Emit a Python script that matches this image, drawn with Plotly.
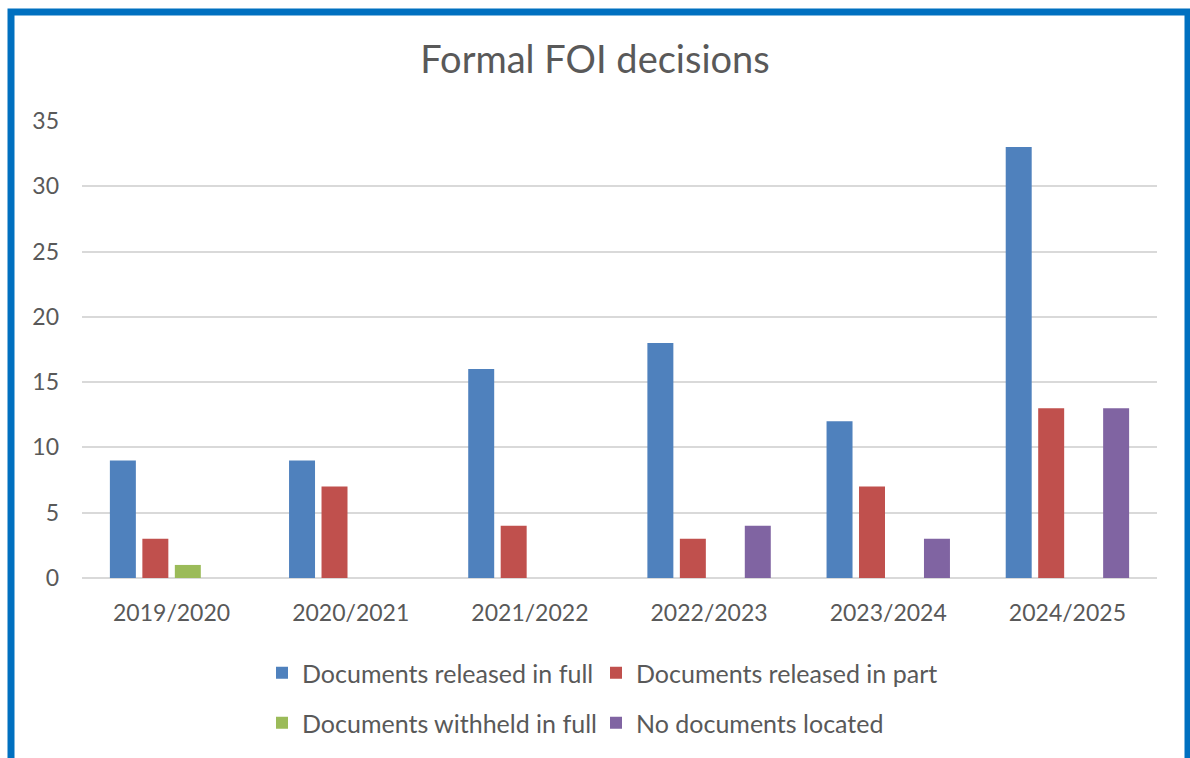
import plotly.graph_objects as go

years = ["2019/2020", "2020/2021", "2021/2022", "2022/2023", "2023/2024", "2024/2025"]
released_full = [9, 9, 16, 18, 12, 33]
released_part = [3, 7, 4, 3, 7, 13]
withheld_full = [1, 0, 0, 0, 0, 0]
none_located = [0, 0, 0, 4, 3, 13]

series_names = ["Documents released in full", "Documents released in part",
                "Documents withheld in full", "No documents located"]
series_values = [released_full, released_part, withheld_full, none_located]
series_colors = ["#4F81BD", "#C0504D", "#9BBB59", "#8064A2"]
series_legends = ["legend2", "legend3", "legend4", "legend5"]

W, H = 1190, 758
L, R, T, B = 82, 33, 121, 180
FONT = "Lato"
GREY = "#595959"

fig = go.Figure()
for name, vals, col, lg in zip(series_names, series_values, series_colors, series_legends):
    fig.add_trace(go.Bar(x=years, y=vals, name=name, marker=dict(color=col, line=dict(width=0)),
                         legend=lg, showlegend=True))

pw = W - L - R
ph = H - T - B
def px2x(p):
    return (p - L) / pw
def py2y(p):
    return (H - B - p) / ph

def leg(xp, yp):
    return dict(orientation="h", x=px2x(xp), y=py2y(yp), xanchor="left", yanchor="middle",
                font=dict(size=25, color=GREY), bgcolor="rgba(0,0,0,0)")

fig.update_layout(
    width=W, height=H,
    margin=dict(l=L, r=R, t=T, b=B),
    paper_bgcolor="white", plot_bgcolor="white",
    barmode="group", bargap=0.275, bargroupgap=0.2,
    font=dict(family=FONT, color=GREY),
    title=dict(text="Formal FOI decisions", x=0.5, xanchor="center",
               y=1 - 60 / H, yref="container", yanchor="middle",
               font=dict(size=38, color=GREY, family=FONT)),
    xaxis=dict(showgrid=False, showline=False, ticks="", tickfont=dict(size=23, color=GREY),
               ticklabelstandoff=19),
    yaxis=dict(range=[0, 35], dtick=5, showgrid=True, gridcolor="#D9D9D9", gridwidth=1.5,
               zeroline=True, zerolinecolor="#D9D9D9", zerolinewidth=2, showline=False,
               ticks="", tickfont=dict(size=23, color=GREY), ticklabelstandoff=22),
    legend2=leg(262, 673),
    legend3=leg(596, 673),
    legend4=leg(262, 723),
    legend5=leg(596, 723),
    shapes=[dict(type="rect", xref="paper", yref="paper",
                 x0=px2x(11), x1=px2x(1188), y0=py2y(12), y1=py2y(820),
                 line=dict(color="#0070C0", width=7), layer="above")],
)

fig.write_html("out.html", config={"displayModeBar": False},
               post_script="document.body.style.margin='0';document.body.style.overflow='hidden';")
